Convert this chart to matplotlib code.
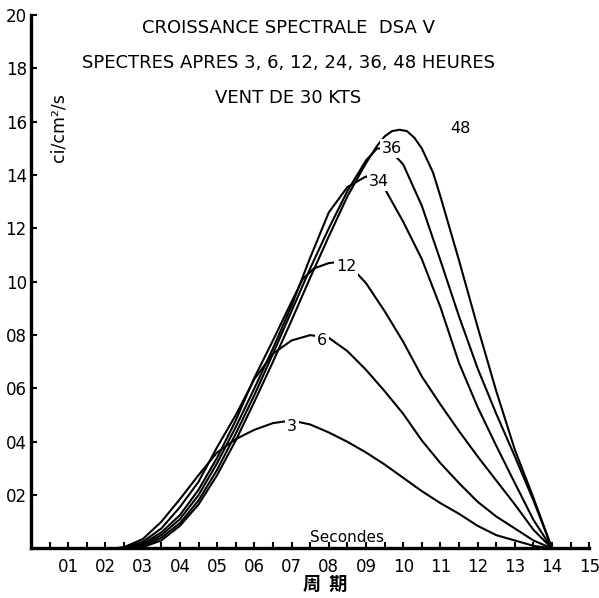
import matplotlib
matplotlib.use("Agg")
import matplotlib.pyplot as plt
import numpy as np

# Spectral energy vs period (seconds), after 3, 6, 12, 24, 36, 48 hours of 30 kt wind
x_3 = [2.2, 2.5, 3.0, 3.5, 4.0, 4.5, 5.0, 5.5, 6.0, 6.5, 7.0, 7.5, 8.0, 8.5, 9.0, 9.5,
       10.0, 10.5, 11.0, 11.5, 12.0, 12.5, 13.0, 13.5, 14.0]
y_3 = [0, 0.05, 0.35, 1.0, 1.85, 2.75, 3.6, 4.1, 4.45, 4.7, 4.8, 4.65, 4.35, 4.0, 3.6, 3.15,
       2.65, 2.15, 1.7, 1.3, 0.85, 0.5, 0.3, 0.1, 0]

x_6 = [2.3, 2.5, 3.0, 3.5, 4.0, 4.5, 5.0, 5.5, 6.0, 6.5, 7.0, 7.5, 8.0, 8.5, 9.0, 9.5,
       10.0, 10.5, 11.0, 11.5, 12.0, 12.5, 13.0, 13.5, 14.0]
y_6 = [0, 0.03, 0.25, 0.75, 1.55, 2.5, 3.8, 5.0, 6.35, 7.3, 7.8, 8.0, 7.9, 7.4, 6.7, 5.9,
       5.05, 4.05, 3.2, 2.45, 1.75, 1.2, 0.75, 0.3, 0]

x_12 = [2.4, 2.5, 3.0, 3.5, 4.0, 4.5, 5.0, 5.5, 6.0, 6.5, 7.0, 7.3, 7.6, 8.0, 8.3, 8.6,
        9.0, 9.5, 10.0, 10.5, 11.0, 11.5, 12.0, 12.5, 13.0, 13.5, 14.0]
y_12 = [0, 0.02, 0.18, 0.6, 1.25, 2.2, 3.4, 4.8, 6.4, 7.8, 9.25, 10.1, 10.5, 10.7, 10.75, 10.55,
        9.95, 8.9, 7.75, 6.45, 5.4, 4.4, 3.45, 2.55, 1.65, 0.7, 0]

x_24 = [2.5, 3.0, 3.5, 4.0, 4.5, 5.0, 5.5, 6.0, 6.5, 7.0, 7.5, 8.0, 8.5, 9.0, 9.5,
        10.0, 10.5, 11.0, 11.5, 12.0, 12.5, 13.0, 13.5, 14.0]
y_24 = [0, 0.12, 0.5, 1.1, 2.0, 3.2, 4.55, 6.0, 7.5, 9.1, 10.9, 12.6, 13.55, 13.95, 13.5,
        12.25, 10.85, 9.05, 6.95, 5.3, 3.85, 2.45, 1.07, 0]

x_36 = [2.6, 3.0, 3.5, 4.0, 4.5, 5.0, 5.5, 6.0, 6.5, 7.0, 7.5, 8.0, 8.5, 9.0, 9.3, 9.6,
        10.0, 10.5, 11.0, 11.5, 12.0, 12.5, 13.0, 13.5, 14.0]
y_36 = [0, 0.08, 0.4, 0.95, 1.8, 2.95, 4.3, 5.75, 7.3, 8.9, 10.5, 12.0, 13.4, 14.55, 15.0, 15.0,
        14.4, 12.85, 10.8, 8.7, 6.75, 5.05, 3.45, 1.8, 0]

x_48 = [2.7, 3.0, 3.5, 4.0, 4.5, 5.0, 5.5, 6.0, 6.5, 7.0, 7.5, 8.0, 8.5, 9.0, 9.3, 9.5,
        9.7, 9.9, 10.1, 10.3, 10.5, 10.8, 11.0, 11.5, 12.0, 12.5, 13.0, 13.5, 14.0]
y_48 = [0, 0.05, 0.3, 0.85, 1.65, 2.75, 4.05, 5.5, 7.0, 8.55, 10.15, 11.7, 13.2, 14.45, 15.1, 15.45,
        15.65, 15.7, 15.65, 15.4, 15.0, 14.1, 13.2, 10.8, 8.3, 5.9, 3.7, 1.9, 0]

series = [(x_3, y_3), (x_6, y_6), (x_12, y_12), (x_24, y_24), (x_36, y_36), (x_48, y_48)]

# Curve labels (as printed) and where they sit
curve_labels = ["3", "6", "12", "34", "36", "48"]
label_x = [7.02, 7.82, 8.47, 9.35, 9.7, 11.53]
label_y = [4.59, 7.81, 10.58, 13.76, 15.0, 15.75]

x_ticks = list(range(1, 16))
x_ticklabels = ["%02d" % v for v in x_ticks]
y_ticks = list(range(2, 21, 2))
y_ticklabels = ["%02d" % v for v in y_ticks]

title_lines = ["CROISSANCE SPECTRALE  DSA V",
               "SPECTRES APRES 3, 6, 12, 24, 36, 48 HEURES",
               "VENT DE 30 KTS"]

plt.rcParams['font.family'] = ['DejaVu Sans', 'Noto Sans CJK JP']

fig = plt.figure(figsize=(5.99, 5.98), dpi=100)
ax = fig.add_axes([0.0518, 0.0828, 0.932, 0.892])

for xs, ys in series:
    ax.plot(xs, ys, color='black', lw=1.5, solid_capstyle='round',
            solid_joinstyle='round', zorder=2)

for t, lx, ly in zip(curve_labels, label_x, label_y):
    ax.text(lx, ly, t, ha='center', va='center', fontsize=11.5, zorder=4,
            bbox=dict(boxstyle='square,pad=0.12', fc='white', ec='none'))

ax.set_xlim(0, 15)
ax.set_ylim(0, 20)
for s in ['top', 'right']:
    ax.spines[s].set_visible(False)
for s in ['left', 'bottom']:
    ax.spines[s].set_linewidth(2.4)

ax.set_xticks(x_ticks)
ax.set_xticklabels(x_ticklabels)
ax.set_xticks(np.arange(0.5, 15, 1.0), minor=True)
ax.set_yticks(y_ticks)
ax.set_yticklabels(y_ticklabels)
ax.tick_params(axis='x', which='both', direction='in', length=4, width=1.5,
               labelsize=12, pad=7)
ax.tick_params(axis='y', which='both', direction='in', length=4, width=1.5,
               labelsize=12, pad=3)

title_y = [19.5, 18.2, 16.9]
for line, ty in zip(title_lines, title_y):
    ax.text(6.92, ty, line, ha='center', va='center', fontsize=13)

ax.text(0.75, 15.8, "ci/cm²/s", rotation=90, ha='center', va='center', fontsize=12.5)
ax.text(8.5, 0.4, "Secondes", ha='center', va='center', fontsize=11)
fig.text(0.543, 0.022, "周  期", ha='center', va='center', fontsize=13,
         fontweight='bold', family=['Noto Sans CJK JP', 'DejaVu Sans'])

fig.savefig("out.png", dpi=100)
